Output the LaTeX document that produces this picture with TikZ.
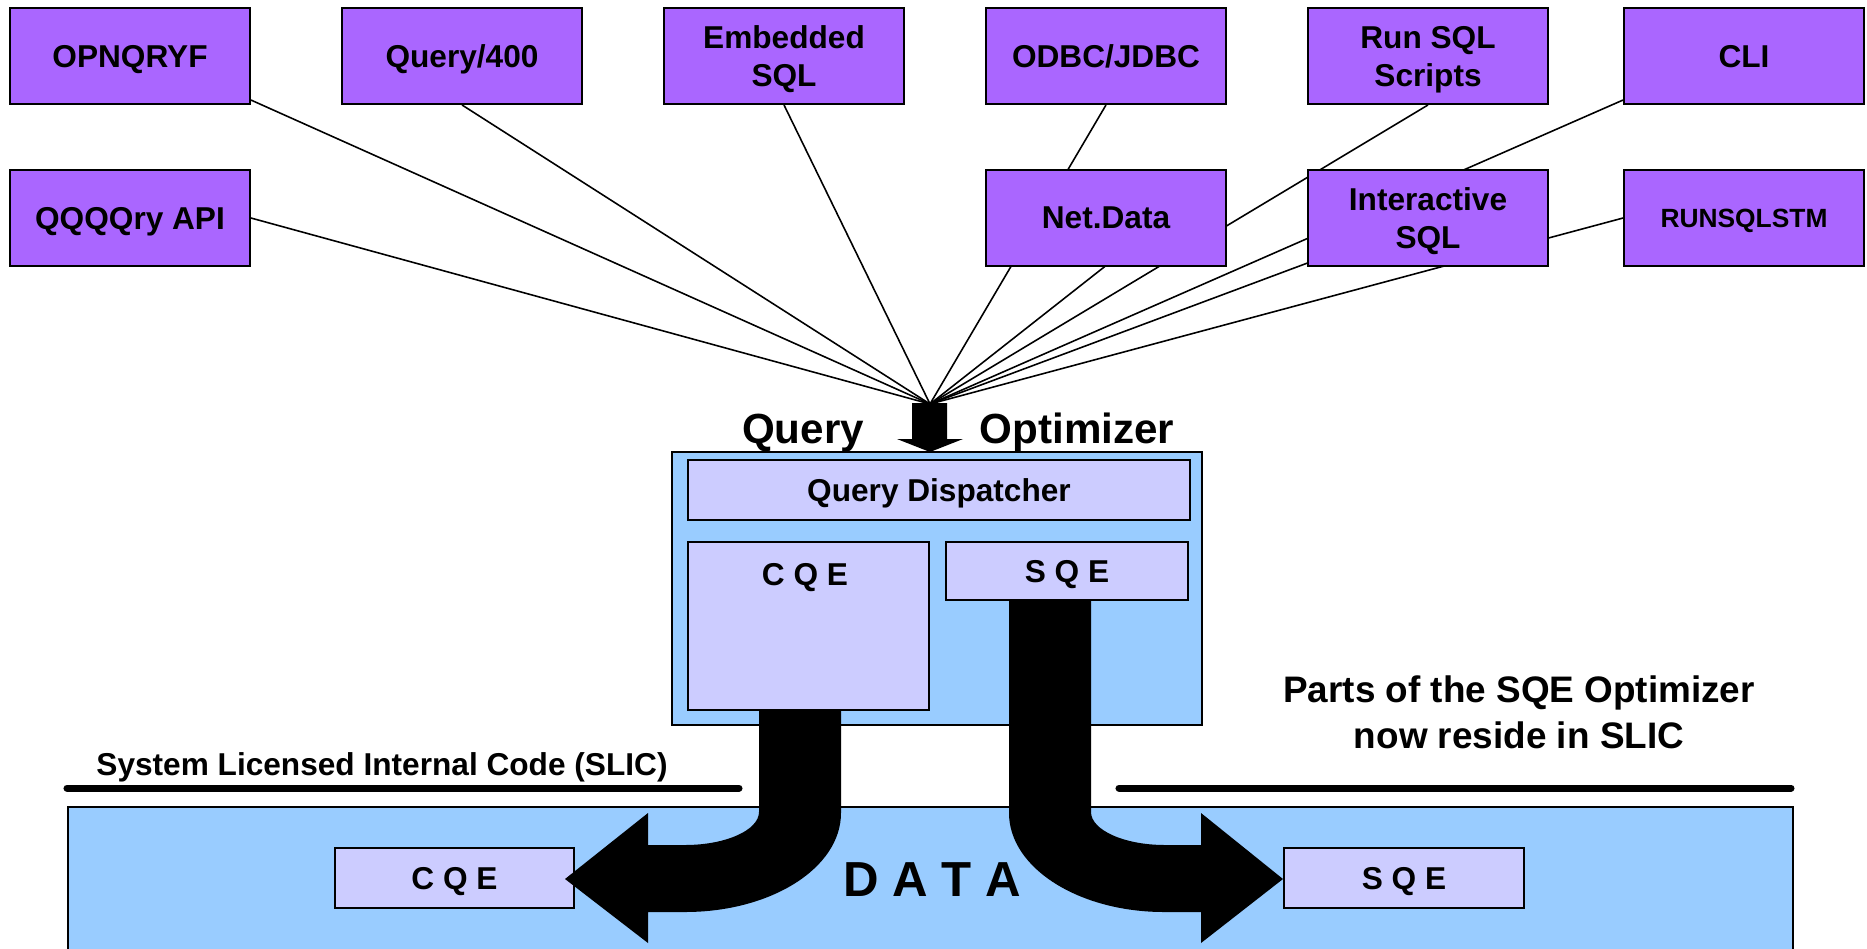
\documentclass[tikz,border=0pt]{standalone}
\usepackage{fontspec}
\setmainfont{Liberation Sans}
\usetikzlibrary{calc, backgrounds}
\definecolor{apipurple}{HTML}{AA66FF}
\definecolor{optblue}{HTML}{99CCFF}
\definecolor{enginelav}{HTML}{CCCCFF}

\tikzset{
  apibox/.style={draw=black, line width=1.1pt, fill=apipurple, minimum width=4.8cm, minimum height=1.92cm,
    inner sep=0pt, align=center, text depth=0pt, font=\fontsize{18}{21.6}\selectfont\bfseries},
  twoline/.style={text height=34.5pt},
  enginebox/.style={draw=black, line width=1pt, fill=enginelav, inner sep=0pt, text depth=0pt,
    font=\fontsize{18}{21.6}\selectfont\bfseries},
  areabox/.style={draw=black, line width=1pt, fill=optblue, inner sep=0pt},
  feed/.style={line width=0.9pt},
  bigflow/.style={fill=black},
}

\begin{document}
\begin{tikzpicture}[x=0.02cm, y=-0.02cm]

\useasboundingbox (0,0) rectangle (1867,948);
\clip (0,0) rectangle (1867,948);

% DATA area
\node[areabox, minimum width=34.5cm, minimum height=2.92cm] (data) at (930.5,880) {};
\node[font=\fontsize{28}{32}\selectfont\bfseries] (datalbl) at (932,880) {D A T A};

% Interfaces, top row
\node[apibox] (opnqryf) at (130,56) {OPNQRYF};
\node[apibox] (query) at (462,56) {Query/400};
\node[apibox, twoline] (embsql) at (784,56) {Embedded\\SQL};
\node[apibox] (odbc) at (1106,56) {ODBC/JDBC};
\node[apibox, twoline] (runsql) at (1428,56) {Run SQL\\Scripts};
\node[apibox] (cli) at (1744,56) {CLI};

% Interfaces, second row
\node[apibox] (qqqqry) at (130,218) {QQQQry API};
\node[apibox] (netdata) at (1106,218) {Net.Data};
\node[apibox, twoline] (interact) at (1428,218) {Interactive\\SQL};
\node[apibox, font=\fontsize{15}{18}\selectfont\bfseries] (runsqlstm) at (1744,218) {RUNSQLSTM};

% Query optimizer
\coordinate (hub) at (930,404);
\node[font=\fontsize{24}{28}\selectfont\bfseries, anchor=base] (qlbl) at (803,443) {Query};
\node[font=\fontsize{24}{28}\selectfont\bfseries, anchor=base] (olbl) at (1077,443) {Optimizer};
\fill (912,403) -- (947,403) -- (947,439) -- (963,439) -- (930,452) -- (897,439) -- (912,439) -- cycle;

\node[areabox, minimum width=10.6cm, minimum height=5.46cm] (optbox) at (937,588.5) {};
\node[enginebox, minimum width=10.04cm, minimum height=1.2cm] (dispatch) at (939,490) {Query Dispatcher};
\node[enginebox, minimum width=4.82cm, minimum height=3.36cm] (cqeopt) at (808.5,626) {};
\node[font=\fontsize{18}{21.6}\selectfont\bfseries, text depth=0pt] (cqeoptlbl) at (805,574) {C Q E};
\node[enginebox, minimum width=4.84cm, minimum height=1.16cm] (sqeopt) at (1067,571) {S Q E};

% Engines in SLIC
\node[enginebox, minimum width=4.78cm, minimum height=1.2cm] (cqedata) at (454.5,878) {C Q E};
\node[enginebox, minimum width=4.8cm, minimum height=1.2cm] (sqedata) at (1404,878) {S Q E};

% Flows down into SLIC
\fill[bigflow] (759,710) -- (759,812) .. controls (759,830) and (726,845) .. (685,845) -- (648,845)
  -- (648,813) -- (565,879) -- (648,943) -- (648,912) -- (685,912)
  .. controls (771,912) and (841,868) .. (841,813) -- (841,710) -- cycle;
\fill[bigflow] (1009,600) -- (1009,813) .. controls (1009,868) and (1079,912) .. (1164,912) -- (1201,912)
  -- (1201,943) -- (1283,879) -- (1201,813) -- (1201,845) -- (1165,845)
  .. controls (1124,845) and (1091,830) .. (1091,812) -- (1091,600) -- cycle;

% SLIC boundary
\draw[line width=4pt, line cap=round] (67,788) -- (739,788);
\draw[line width=4pt, line cap=round] (1119,788) -- (1791,788);
\node[font=\fontsize{18}{22}\selectfont\bfseries, anchor=base] (slic) at (382,775) {System Licensed Internal Code (SLIC)};
\node[font=\fontsize{21}{26}\selectfont\bfseries, align=center] (sqenote) at (1519,712) {Parts of the SQE Optimizer\\now reside in SLIC};

% Feeds into the optimizer
\begin{scope}[on background layer]
\foreach \src in {opnqryf.-20, query.south, embsql.south, odbc.south, runsql.south, cli.200,
                  qqqqry.east, interact.center, runsqlstm.west}
  \draw[feed] (\src) -- (hub);
\draw[feed] ($(netdata.center)!0.5!(netdata.east)$) -- (hub);
\end{scope}

\end{tikzpicture}
\end{document}
